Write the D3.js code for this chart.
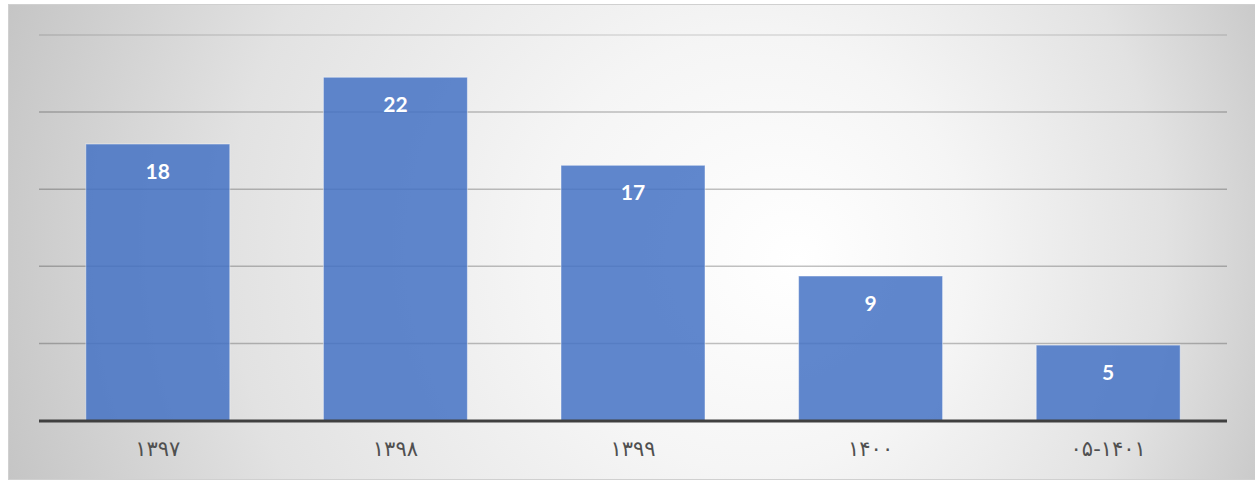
<!DOCTYPE html>
<html>
<head>
<meta charset="utf-8">
<script src="https://cdn.jsdelivr.net/npm/d3@7"></script>
<style>
  html, body { margin: 0; padding: 0; background: #ffffff; }
  svg { display: block; }
</style>
</head>
<body>
<svg id="chart" width="1255" height="481"></svg>
<script>
// Categories (Persian years) and bar values.
const categories = ["۱۳۹۷", "۱۳۹۸", "۱۳۹۹", "۱۴۰۰", "۰۵-۱۴۰۱"];
const values = [17.93, 22.26, 16.55, 9.37, 4.89];
const yTicks = [5, 10, 15, 20, 25];
const yMax = 25;

const svg = d3.select("#chart");
const W = 1255, H = 481;
const plot = { left: 39, right: 1227, top: 35, bottom: 420.5 };

// Background gradient
const defs = svg.append("defs");
const grad = defs.append("radialGradient")
  .attr("id", "bg")
  .attr("gradientUnits", "userSpaceOnUse")
  .attr("cx", 640).attr("cy", 240).attr("r", 720)
  .attr("fx", 800).attr("fy", 260);
[[0, "#ffffff"], [0.3, "#f5f5f5"], [0.65, "#e2e2e2"], [1, "#c0c0c0"]].forEach(([o, c]) =>
  grad.append("stop").attr("offset", o).attr("stop-color", c));

svg.append("rect")
  .attr("x", 8.5).attr("y", 4.5)
  .attr("width", W - 8).attr("height", 475)
  .attr("fill", "url(#bg)")
  .attr("stroke", "#d0d0d0").attr("stroke-width", 1);

const x = d3.scaleBand()
  .domain(categories)
  .range([plot.left, plot.right])
  .paddingInner(0.394)
  .paddingOuter(0.197);

const y = d3.scaleLinear()
  .domain([0, yMax])
  .range([plot.bottom, plot.top]);

// Gridlines
svg.append("g")
  .selectAll("line")
  .data(yTicks)
  .join("line")
  .attr("x1", plot.left).attr("x2", plot.right)
  .attr("y1", d => y(d)).attr("y2", d => y(d))
  .attr("stroke", d => d === yMax ? "rgba(0,0,0,0.12)" : "rgba(0,0,0,0.24)")
  .attr("stroke-width", 1.5);

// Bars
svg.append("g")
  .selectAll("rect")
  .data(values)
  .join("rect")
  .attr("x", (d, i) => x(categories[i]))
  .attr("y", d => y(d))
  .attr("width", x.bandwidth())
  .attr("height", d => y(0) - y(d))
  .attr("fill", "#4472c4")
  .attr("fill-opacity", 0.85)
  .attr("stroke", "rgba(255,255,255,0.45)")
  .attr("stroke-width", 1);

// Data labels (inside end)
svg.append("g")
  .selectAll("text")
  .data(values)
  .join("text")
  .attr("x", (d, i) => x(categories[i]) + x.bandwidth() / 2)
  .attr("y", d => y(d) + 34.5)
  .attr("text-anchor", "middle")
  .attr("font-family", "Lato, 'Open Sans', sans-serif")
  .attr("font-weight", "bold")
  .attr("font-size", 21)
  .attr("fill", "#ffffff")
  .text(d => d3.format(".0f")(d));

// X axis
const xAxis = svg.append("g")
  .attr("transform", `translate(0,${plot.bottom})`)
  .call(d3.axisBottom(x).tickSize(0).tickPadding(21));
xAxis.select(".domain").remove();
xAxis.selectAll("text")
  .attr("font-family", "'DejaVu Sans', sans-serif")
  .attr("font-size", 21)
  .attr("fill", "#505050")
  .attr("direction", "ltr")
  .attr("unicode-bidi", "bidi-override");

// Baseline
svg.append("line")
  .attr("x1", plot.left).attr("x2", plot.right)
  .attr("y1", y(0) + 0.5).attr("y2", y(0) + 0.5)
  .attr("stroke", "#404040")
  .attr("stroke-width", 3);
</script>
</body>
</html>
